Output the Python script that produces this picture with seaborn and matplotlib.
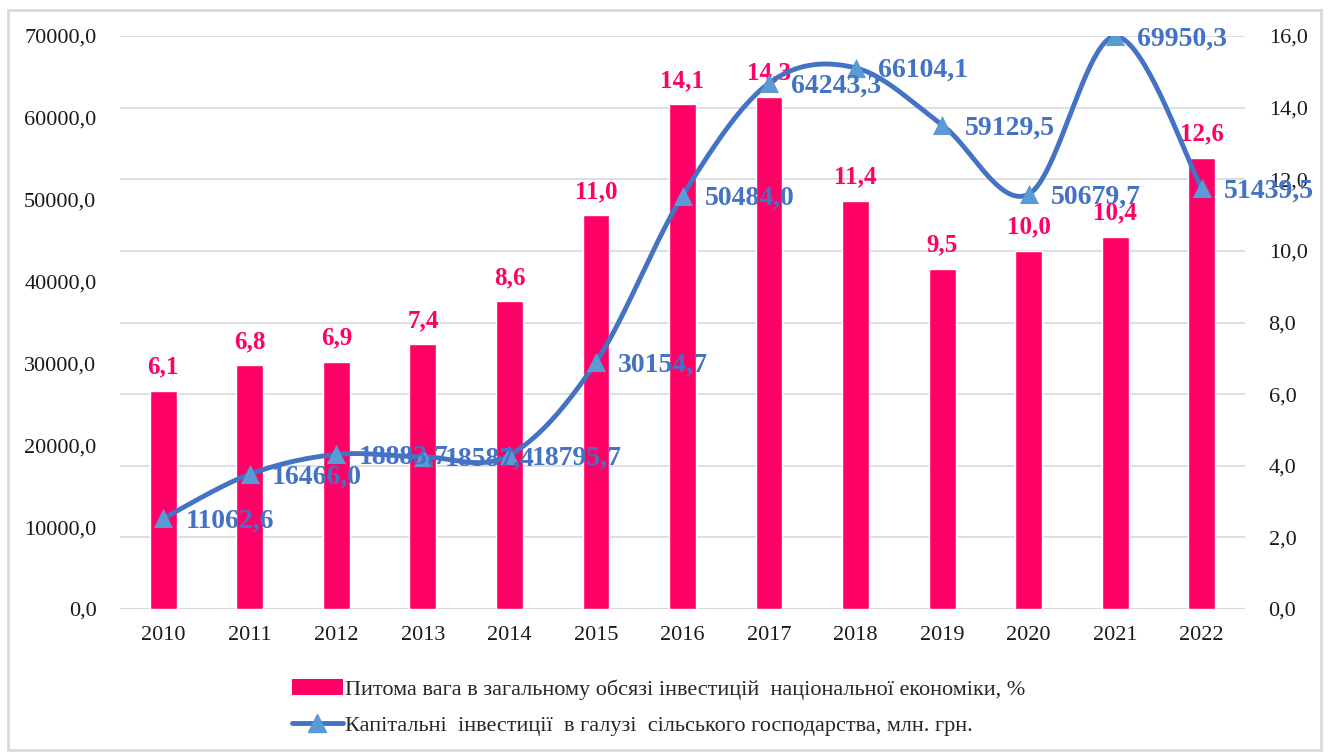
import numpy as np
import pandas as pd
import matplotlib
matplotlib.use("Agg")
import matplotlib.pyplot as plt
from matplotlib.lines import Line2D
from matplotlib.patches import Patch, Rectangle
import seaborn as sns

years = ["2010", "2011", "2012", "2013", "2014", "2015", "2016",
         "2017", "2018", "2019", "2020", "2021", "2022"]
share_pct = [6.1, 6.8, 6.9, 7.4, 8.6, 11.0, 14.1, 14.3, 11.4, 9.5, 10.0, 10.4, 12.6]
capital_inv = [11062.6, 16466.0, 18883.7, 18587.4, 18795.7, 30154.7, 50484.0,
               64243.3, 66104.1, 59129.5, 50679.7, 69950.3, 51439.5]

bar_label = "Питома вага в загальному обсязі інвестицій  національної економіки, %"
line_label = "Капітальні  інвестиції  в галузі  сільського господарства, млн. грн."

PINK = "#FF0066"
BLUE = "#4472C4"
MARK = "#5B9BD5"


def fmt(v):
    return f"{v:.1f}".replace(".", ",")


def smooth_curve(xs, ys, steps=40):
    """Згладжена лінія як у Excel (Безьє через точки)."""
    pts = np.column_stack([xs, ys]).astype(float)
    ext = np.vstack([pts[0], pts, pts[-1]])
    out = []
    t = np.linspace(0, 1, steps)[:, None]
    for i in range(1, len(ext) - 2):
        p0, p1, p2, p3 = ext[i - 1], ext[i], ext[i + 1], ext[i + 2]
        c1 = p1 + (p2 - p0) / 6
        c2 = p2 - (p3 - p1) / 6
        seg = ((1 - t) ** 3) * p1 + 3 * ((1 - t) ** 2) * t * c1 + 3 * (1 - t) * t ** 2 * c2 + t ** 3 * p2
        out.append(seg)
    out = np.vstack(out)
    return out[:, 0], out[:, 1]


sns.set_theme(style="white")
plt.rcParams["font.family"] = ["Liberation Serif", "DejaVu Serif"]

df = pd.DataFrame({"year": years, "share": share_pct, "inv": capital_inv})
df["pos"] = np.arange(len(years))

fig = plt.figure(figsize=(13.3, 7.53), dpi=100)
ax = fig.add_axes([120 / 1330, 1 - 609 / 753, 1125 / 1330, 573 / 753])

# стовпці (права вісь)
sns.barplot(data=df, x="year", y="share", color=PINK, saturation=1,
            width=0.31, ax=ax, zorder=2)
ax.set_ylim(0, 16)
ax.set_yticks(np.arange(0, 17, 2))
ax.set_yticklabels([fmt(v) for v in np.arange(0, 17, 2)])
ax.set_axisbelow(True)
ax.grid(axis="y", color="#D9D9D9", linewidth=1.2)
ax.grid(axis="x", visible=False)
for s in ax.spines.values():
    s.set_visible(False)
ax.set_xlim(-0.5, len(years) - 0.5)
ax.set_xlabel("")
ax.set_ylabel("")
ax.axhline(0, color="#D9D9D9", linewidth=1.5, zorder=1)

for p, v in zip(df["pos"], df["share"]):
    ax.annotate(fmt(v), (p, v), xytext=(0, 17), textcoords="offset points",
                ha="center", va="center", fontsize=18, fontweight="bold",
                color=PINK, zorder=5)

# лінія (ліва вісь)
ax2 = ax.twinx()
ax.yaxis.tick_right()
ax.tick_params(axis="both", length=0, labelsize=16, colors="#1a1a1a")
ax.tick_params(axis="y", pad=17)
ax.tick_params(axis="x", pad=12)

cx, cy = smooth_curve(df["pos"], df["inv"])
ax2.plot(cx, cy, color=BLUE, linewidth=3.5, zorder=3, solid_capstyle="round")
sns.scatterplot(x=df["pos"], y=df["inv"], marker="^", s=190, color=MARK,
                edgecolor=MARK, linewidth=0, ax=ax2, zorder=4)
ax2.set_ylim(0, 70000)
ax2.set_yticks(np.arange(0, 70001, 10000))
ax2.set_yticklabels([fmt(v) for v in np.arange(0, 70001, 10000)])
ax2.yaxis.tick_left()
ax2.grid(False)
for s in ax2.spines.values():
    s.set_visible(False)
ax2.tick_params(axis="y", length=0, labelsize=16, colors="#1a1a1a", pad=17)
ax2.set_xlabel("")
ax2.set_ylabel("")

for p, v in zip(df["pos"], df["inv"]):
    ax2.annotate(fmt(v), (p, v), xytext=(16, -2), textcoords="offset points",
                 ha="left", va="center", fontsize=20, fontweight="bold",
                 color=BLUE, zorder=6)

# легенда
handles = [
    Patch(facecolor=PINK, edgecolor="none"),
    Line2D([0], [0], color=BLUE, linewidth=3.5, marker="^", markersize=13,
           markerfacecolor=MARK, markeredgecolor=MARK),
]
fig.legend(handles, [bar_label, line_label], loc="center",
           bbox_to_anchor=(0.495, 0.06), ncol=1, frameon=False, fontsize=16,
           handlelength=2.3, handletextpad=0.1, labelspacing=0.7)

fig.patches.append(Rectangle((8 / 1330, 3 / 753), 1313 / 1330, 740 / 753,
                             transform=fig.transFigure, fill=False,
                             edgecolor="#D9D9D9", linewidth=2))

fig.savefig("out.png", dpi=100)
